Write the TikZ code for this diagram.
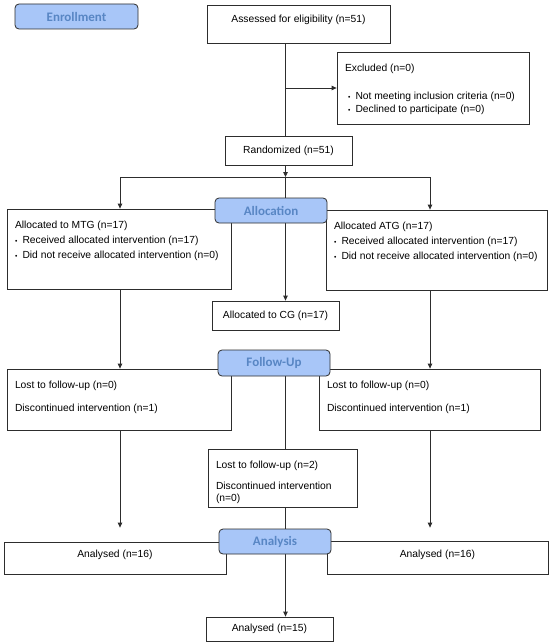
\documentclass[tikz,border=0pt]{standalone}
\usepackage{fontspec}
\setmainfont{Liberation Sans}
\newfontfamily\phasefont{Carlito}
\usetikzlibrary{arrows.meta,backgrounds}
\definecolor{boxline}{RGB}{45,45,45}
\definecolor{phasefill}{RGB}{168,198,248}
\definecolor{phasetext}{RGB}{88,134,196}
\newcommand{\bul}{\makebox[7.5pt][l]{\scalebox{0.65}{\textbullet}}}
\newcommand{\boxtxt}[3]{\parbox[c][#2][t]{#1}{\raggedright\leftskip=8pt\rule{0pt}{19pt}#3}}

\begin{document}
\begin{tikzpicture}[
    x=1pt, y=-1pt,
    every node/.style={font=\fontsize{10.3}{12}\selectfont},
    cbox/.style={rectangle, draw=boxline, fill=white, line width=0.8pt, inner sep=0pt, align=center},
    lbox/.style={rectangle, draw=boxline, fill=white, line width=0.8pt, inner sep=0pt},
    phase/.style={rectangle, draw=boxline, fill=phasefill, rounded corners=4pt, line width=0.8pt, minimum width=112pt, minimum height=25pt, inner sep=0pt, text=phasetext, font=\phasefont\bfseries\fontsize{13}{15}\selectfont},
    arrow/.style={-{Triangle[length=5pt,width=4.5pt]}, line width=0.8pt, boxline},
    line/.style={line width=0.8pt, boxline},
]
\useasboundingbox (0,0) rectangle (550,642);
\coordinate (lcol) at (120,0);
\coordinate (mcol) at (285.5,0);
\coordinate (rcol) at (430,0);
\coordinate (split) at (285.5,177);
\node[cbox, minimum width=183pt, minimum height=38pt, text depth=10pt] (assess) at (298.5,24) {Assessed for eligibility (n=51)};
\node[lbox] (excl) at (433,88) {\boxtxt{192pt}{72pt}{Excluded (n=0)\\[16pt]
    \hspace*{3pt}\bul Not meeting inclusion criteria (n=0)\\[1pt]
    \hspace*{3pt}\bul Declined to participate (n=0)}};
\node[cbox, minimum width=127pt, minimum height=29pt] (rand) at (288.5,151) {Randomized (n=51)};
\node[lbox] (mtg) at (119,249) {\boxtxt{224pt}{80pt}{Allocated to MTG (n=17)\\[3pt]
    \bul Received allocated intervention (n=17)\\[3pt]
    \bul Did not receive allocated intervention (n=0)}};
\node[lbox] (atg) at (436.5,250) {\boxtxt{221pt}{80pt}{Allocated ATG (n=17)\\[3pt]
    \bul Received allocated intervention (n=17)\\[3pt]
    \bul Did not receive allocated intervention (n=0)}};
\node[cbox, minimum width=127pt, minimum height=29pt] (cg) at (275.5,315.5) {Allocated to CG (n=17)};
\node[lbox] (mtgfu) at (119,399.5) {\boxtxt{224pt}{61pt}{Lost to follow-up (n=0)\\[11pt]
    Discontinued intervention (n=1)}};
\node[lbox] (atgfu) at (429.5,399.5) {\boxtxt{221pt}{61pt}{Lost to follow-up (n=0)\\[11pt]
    Discontinued intervention (n=1)}};
\node[lbox] (cgfu) at (282.5,478) {\boxtxt{149pt}{58pt}{Lost to follow-up (n=2)\\[9.5pt]
    Discontinued intervention\\
    (n=0)}};
\node[cbox, minimum width=222pt, minimum height=32pt, text depth=8pt] (mtgan) at (115,558) {Analysed (n=16)};
\node[cbox, minimum width=221pt, minimum height=33pt, text depth=8pt] (atgan) at (437.5,557.5) {Analysed (n=16)};
\node[cbox, minimum width=127pt, minimum height=24pt] (final) at (269.5,629) {Analysed (n=15)};
\node[phase, minimum width=123pt] (enrol) at (76.5,16.5) {Enrollment};
\node[phase] (alloc) at (271,210.5) {Allocation};
\node[phase, minimum height=26pt] (fu) at (274,363) {Follow-Up};
\node[phase] (an) at (275,541.5) {Analysis};
\begin{scope}[on background layer]
\fill[white] (0,0) rectangle (550,642);
\draw[line] (assess.south -| mcol) -- (rand.north -| mcol);
\draw[arrow] (excl.west -| mcol) -- (excl.west);
\draw[arrow] (rand.south -| mcol) -- (split);
\draw[line] (split -| lcol) -- (split -| rcol);
\draw[arrow] (split -| lcol) -- (mtg.north -| lcol);
\draw[arrow] (split -| rcol) -- (atg.north -| rcol);
\draw[arrow] (split) -- (cg.north -| mcol);
\draw[arrow] (mtg.south -| lcol) -- (mtgfu.north -| lcol);
\draw[arrow] (atg.south -| rcol) -- (atgfu.north -| rcol);
\draw[line] (fu.south -| mcol) -- (cgfu.north -| mcol);
\draw[arrow, shorten >=14pt] (mtgfu.south -| lcol) -- (mtgan.north -| lcol);
\draw[arrow, shorten >=13pt] (atgfu.south -| rcol) -- (atgan.north -| rcol);
\draw[line] (cgfu.south -| mcol) -- (an.north -| mcol);
\draw[arrow] (an.south -| mcol) -- (final.north -| mcol);
\end{scope}
\end{tikzpicture}
\end{document}
